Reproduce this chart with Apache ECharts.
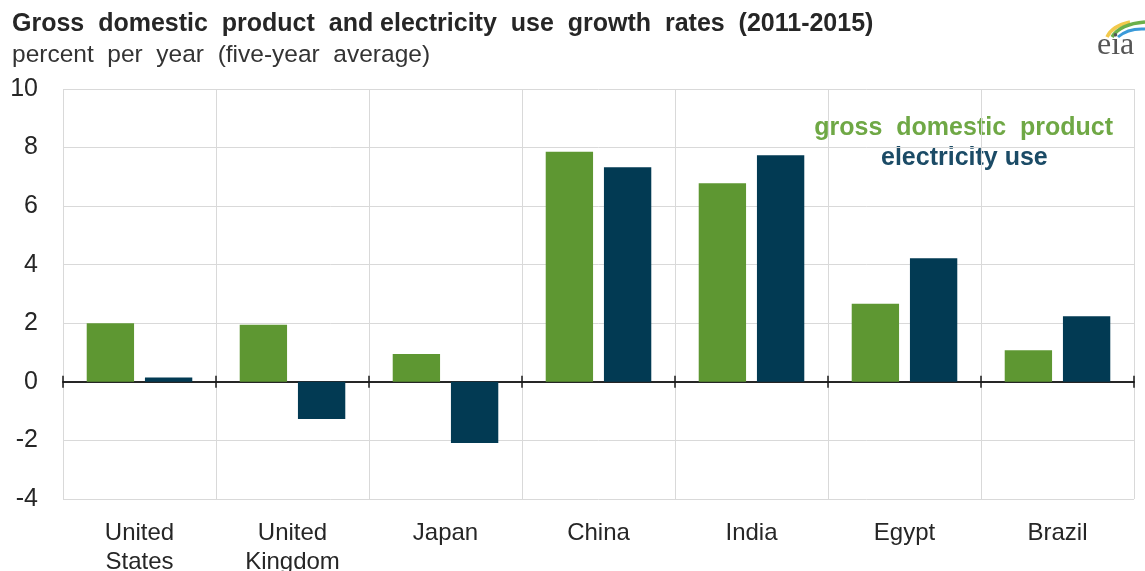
<!DOCTYPE html>
<html>
<head>
<meta charset="utf-8">
<script src="https://cdn.jsdelivr.net/npm/echarts@6/dist/echarts.min.js"></script>
<style>
  html, body { margin: 0; padding: 0; background: #ffffff; }
  #chart { width: 1145px; height: 571px; }
</style>
</head>
<body>
<div id="chart"></div>
<script>
// Countries along the category axis
const countries = ['United\nStates', 'United\nKingdom', 'Japan', 'China', 'India', 'Egypt', 'Brazil'];
// Five-year average growth rates, percent per year
const gdpGrowth = [2.0, 1.95, 0.95, 7.86, 6.78, 2.67, 1.08];
const electricityGrowth = [0.15, -1.27, -2.09, 7.33, 7.74, 4.22, 2.24];
// Value axis range and step
const yMin = -4;
const yMax = 10;
const yStep = 2;

const GREEN = '#5e9732';
const NAVY = '#023a53';
const FONT = '"Liberation Sans", Arial, sans-serif';

const chart = echarts.init(document.getElementById('chart'), null, { renderer: 'canvas' });

const valueAxis = (visible) => ({
  type: 'value', min: yMin, max: yMax, interval: yStep,
  show: visible,
  axisLine: { show: false }, axisTick: { show: false },
  axisLabel: { show: visible, margin: 25, fontSize: 25, color: '#262626', fontFamily: FONT },
  splitLine: { show: visible, lineStyle: { color: '#d9d9d9', width: 1 } }
});

chart.setOption({
  animation: false,
  backgroundColor: '#ffffff',
  textStyle: { fontFamily: FONT },
  grid: { left: 63, right: 11, top: 89, bottom: 72, containLabel: false, outerBoundsMode: 'none' },
  graphic: [
    {
      type: 'text', left: 12, top: 12,
      style: {
        text: 'Gross  domestic  product  and electricity  use  growth  rates  (2011-2015)',
        font: 'bold 25px ' + FONT, fill: '#262626'
      }
    },
    {
      type: 'text', left: 12, top: 43,
      style: {
        text: 'percent  per  year  (five-year  average)',
        font: '24.5px ' + FONT, fill: '#333333'
      }
    },
    {
      type: 'text', right: 32, top: 116,
      style: { text: 'gross  domestic  product', font: 'bold 25px ' + FONT, fill: '#6fa845' }
    },
    {
      type: 'text', left: 881, top: 146,
      style: { text: 'electricity use', font: 'bold 25px ' + FONT, fill: '#1b4b66' }
    },
    // eia mark: three swooshes above the lowercase wordmark
    {
      type: 'bezierCurve',
      shape: { x1: 1107, y1: 37, cpx1: 1112, cpy1: 26, x2: 1130, y2: 22 },
      style: { stroke: '#f2c94c', lineWidth: 3.5, fill: null }
    },
    {
      type: 'bezierCurve',
      shape: { x1: 1112, y1: 37, cpx1: 1120, cpy1: 24, x2: 1145, y2: 22 },
      style: { stroke: '#6ab04c', lineWidth: 3.5, fill: null }
    },
    {
      type: 'bezierCurve',
      shape: { x1: 1118, y1: 37, cpx1: 1128, cpy1: 28, x2: 1145, y2: 29 },
      style: { stroke: '#3a9ad9', lineWidth: 3, fill: null }
    },
    {
      type: 'text', left: 1097, top: 30,
      style: { text: 'eia', font: '32px "Liberation Serif", "DejaVu Serif", serif', fill: '#555555' }
    }
  ],
  xAxis: [
    {
      // Category labels along the bottom edge, with vertical separators
      type: 'category', data: countries, position: 'bottom',
      axisLine: { show: false, onZero: false }, axisTick: { show: false },
      axisLabel: { margin: 20, fontSize: 24, color: '#262626', lineHeight: 29, fontFamily: FONT },
      splitLine: { show: true, lineStyle: { color: '#d9d9d9', width: 1 } }
    },
    {
      // Zero line with ticks pointing down
      type: 'category', data: countries, position: 'bottom',
      axisLine: { onZero: true, onZeroAxisIndex: 0, lineStyle: { color: '#1a1a1a', width: 1.5 } },
      axisTick: { show: true, length: 6, lineStyle: { color: '#1a1a1a', width: 1.5 } },
      axisLabel: { show: false }, splitLine: { show: false }
    },
    {
      // Ticks pointing up from the zero line
      type: 'category', data: countries, position: 'bottom',
      axisLine: { onZero: true, onZeroAxisIndex: 1, lineStyle: { color: '#1a1a1a', width: 1.5 } },
      axisTick: { show: true, inside: true, length: 6, lineStyle: { color: '#1a1a1a', width: 1.5 } },
      axisLabel: { show: false }, splitLine: { show: false }
    }
  ],
  yAxis: [valueAxis(true), valueAxis(false)],
  series: [
    {
      name: 'gross domestic product', type: 'bar', data: gdpGrowth, xAxisIndex: 1, yAxisIndex: 0,
      barCategoryGap: '31%', barGap: '23%',
      itemStyle: { color: GREEN }, z: 1
    },
    {
      name: 'electricity use', type: 'bar', data: electricityGrowth, xAxisIndex: 1, yAxisIndex: 0,
      itemStyle: { color: NAVY }, z: 1
    }
  ]
});
</script>
</body>
</html>
